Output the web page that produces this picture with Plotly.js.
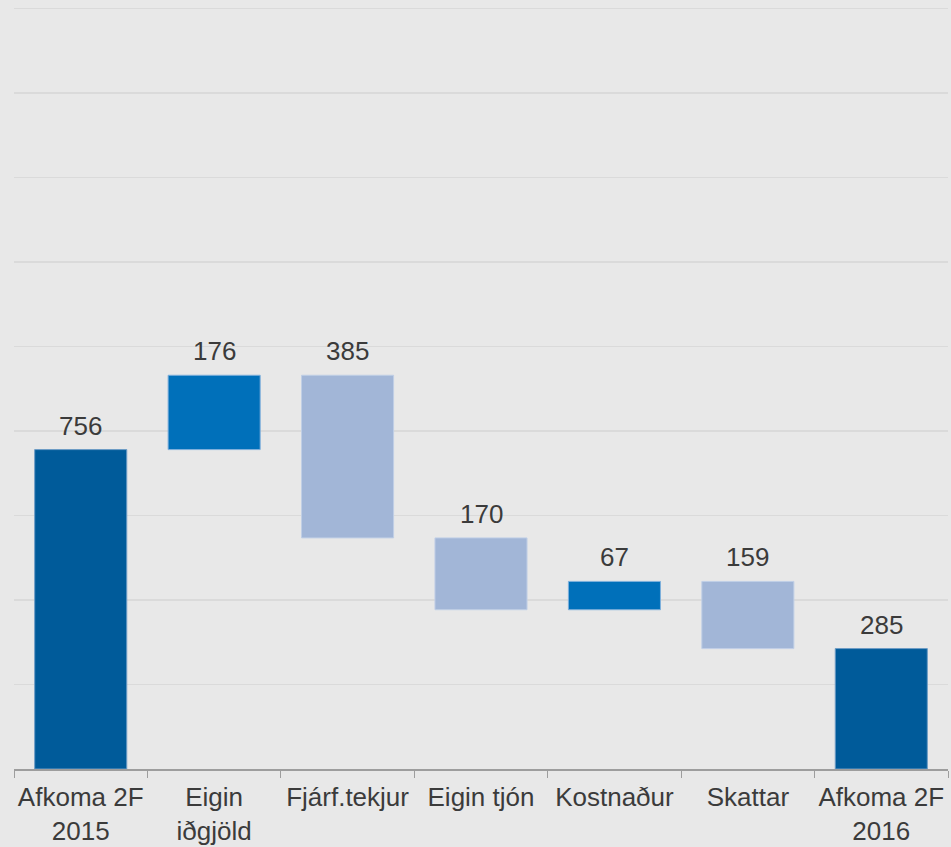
<!DOCTYPE html>
<html>
<head>
<meta charset="utf-8">
<script src="https://cdn.plot.ly/plotly-3.0.1.min.js"></script>
<style>html,body{margin:0;padding:0;background:#e8e8e8;}#chart{width:951px;height:847px;}</style>
</head>
<body>
<div id="chart"></div>
<script>
const categories = ["Afkoma 2F<br>2015", "Eigin<br>iðgjöld", "Fjárf.tekjur", "Eigin tjón", "Kostnaður", "Skattar", "Afkoma 2F<br>2016"];
const measures = ["absolute", "relative", "relative", "relative", "relative", "relative", "total"];
const values = [756, 176, -385, -170, 67, -159, 285];
const labels = ["756", "176", "385", "170", "67", "159", "285"];

const colTotal = "#005b9a", colUp = "#0070ba", colDown = "#a2b6d7";

// compute bar tops for label placement
let run = 0; const tops = [];
values.forEach((v, i) => {
  let start, end;
  if (measures[i] === "absolute") { start = 0; end = v; run = v; }
  else if (measures[i] === "total") { start = 0; end = run; }
  else { start = run; end = run + v; run = end; }
  tops.push(Math.max(start, end));
});

const FONT = "'Liberation Sans', Arial, sans-serif";

const trace = {
  type: "waterfall",
  x: categories,
  y: values,
  measure: measures,
  width: 0.69,
  connector: {visible: false},
  increasing: {marker: {color: colUp, line: {color: "#7fb0dc", width: 1}}},
  decreasing: {marker: {color: colDown, line: {color: "#c0cfe6", width: 1}}},
  totals: {marker: {color: colTotal, line: {color: "#6d9cc6", width: 1}}},
  textposition: "none",
  hoverinfo: "skip"
};

const annotations = categories.map((c, i) => ({
  x: c, y: tops[i], text: labels[i], showarrow: false,
  xanchor: "center", yanchor: "bottom", yshift: 7,
  font: {family: FONT, size: 26, color: "#3b3b3b"}
}));

const layout = {
  width: 951, height: 847,
  paper_bgcolor: "#e8e8e8", plot_bgcolor: "#e8e8e8",
  margin: {l: 14, r: 3, t: 6, b: 78},
  showlegend: false,
  font: {family: FONT, size: 26, color: "#3b3b3b"},
  xaxis: {
    type: "category",
    showline: true, linecolor: "#9d9d9d", linewidth: 1.5,
    ticks: "outside", tickson: "boundaries", ticklen: 7, tickcolor: "#9d9d9d", tickwidth: 1,
    ticklabelstandoff: 4, tickangle: 0,
    showgrid: false, tickfont: {family: FONT, size: 26, color: "#3b3b3b"}
  },
  yaxis: {
    range: [0, 1806], dtick: 200, showticklabels: false, ticks: "",
    showgrid: true, gridcolor: "#dadada", gridwidth: 1.5, zeroline: false
  },
  annotations: annotations
};

Plotly.newPlot("chart", [trace], layout, {displayModeBar: false, staticPlot: true});
</script>
</body>
</html>
